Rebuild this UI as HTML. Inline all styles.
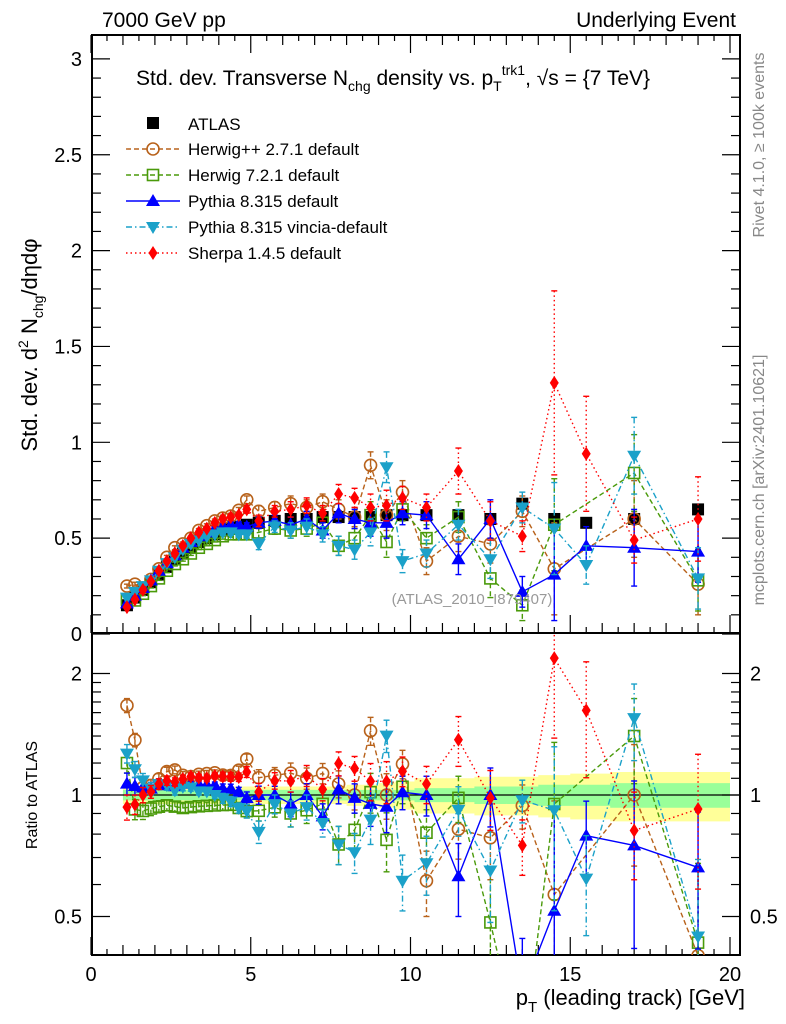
<!DOCTYPE html>
<html><head><meta charset="utf-8"><style>
html,body{margin:0;padding:0;background:#fff;width:786px;height:1024px;overflow:hidden;position:relative;}
svg{display:block;font-family:"Liberation Sans",sans-serif;}
</style></head><body>
<svg id="c" width="786" height="1024" viewBox="0 0 786 1024" style="position:absolute;left:0;top:0"></svg>
<script>
const xs=[1.125,1.375,1.625,1.875,2.125,2.375,2.625,2.875,3.125,3.375,3.625,3.875,4.125,4.375,4.625,4.875,5.25,5.75,6.25,6.75,7.25,7.75,8.25,8.75,9.25,9.75,10.5,11.5,12.5,13.5,14.5,15.5,17,19];
const atlas=[0.15,0.19,0.23,0.27,0.31,0.35,0.39,0.42,0.45,0.48,0.50,0.52,0.54,0.55,0.56,0.57,0.58,0.59,0.60,0.60,0.61,0.61,0.61,0.61,0.62,0.62,0.62,0.62,0.60,0.68,0.60,0.58,0.60,0.65];
const herwigpp=[0.25,0.26,0.24,0.285,0.34,0.40,0.45,0.47,0.50,0.54,0.565,0.59,0.605,0.615,0.645,0.70,0.64,0.66,0.68,0.66,0.69,0.65,0.61,0.88,0.62,0.74,0.38,0.51,0.47,0.64,0.34,null,0.60,0.26];
const herwig7=[0.18,0.175,0.21,0.25,0.29,0.33,0.365,0.39,0.42,0.45,0.47,0.49,0.51,0.52,0.52,0.52,0.53,0.55,0.54,0.55,0.58,0.46,0.50,0.62,0.48,0.65,0.50,0.61,0.29,0.15,0.57,null,0.84,0.28];
const pythia=[0.16,0.20,0.24,0.28,0.33,0.37,0.41,0.45,0.48,0.51,0.53,0.55,0.56,0.57,0.57,0.56,0.58,0.59,0.57,0.60,0.54,0.63,0.60,0.58,0.58,0.63,0.62,0.39,0.60,0.22,0.31,0.46,0.45,0.43];
const vincia=[0.19,0.22,0.25,0.28,0.33,0.37,0.40,0.44,0.47,0.49,0.51,0.52,0.53,0.53,0.52,0.52,0.47,0.56,0.54,0.56,0.52,0.46,0.44,0.53,0.87,0.38,0.42,0.57,0.39,0.66,0.55,0.36,0.93,0.29];
const sherpa=[0.14,0.18,0.23,0.275,0.33,0.38,0.42,0.46,0.50,0.53,0.55,0.58,0.60,0.61,0.62,0.65,0.59,0.64,0.65,0.67,0.63,0.73,0.71,0.66,0.67,0.71,0.66,0.85,0.59,0.51,1.31,0.94,0.49,0.60];
const errs=[0.01,0.01,0.01,0.01,0.01,0.01,0.01,0.01,0.01,0.01,0.01,0.01,0.015,0.015,0.015,0.02,0.03,0.03,0.04,0.04,0.04,0.05,0.05,0.07,0.08,0.06,0.07,0.08,0.1,0.08,0.24,0.1,0.2,0.16];
const sherpaErr=[0.01,0.01,0.01,0.01,0.01,0.01,0.01,0.01,0.01,0.01,0.01,0.01,0.015,0.015,0.015,0.02,0.03,0.03,0.04,0.04,0.04,0.05,0.05,0.07,0.08,0.06,0.07,0.12,0.1,0.08,0.48,0.3,0.12,0.22];
const bandStat=[0.03,0.03,0.03,0.03,0.03,0.03,0.03,0.03,0.03,0.03,0.03,0.03,0.03,0.03,0.03,0.03,0.03,0.03,0.03,0.03,0.03,0.03,0.03,0.03,0.03,0.03,0.04,0.04,0.05,0.05,0.06,0.06,0.07,0.07];
const bandTot=[0.05,0.05,0.05,0.05,0.05,0.05,0.05,0.05,0.05,0.05,0.05,0.05,0.05,0.05,0.05,0.05,0.05,0.05,0.05,0.05,0.05,0.05,0.06,0.06,0.07,0.08,0.1,0.1,0.11,0.11,0.12,0.13,0.14,0.14];
const yTicksMain=[0,0.5,1,1.5,2,2.5,3];
const yTicksRatio=[0.5,1,2];
const xTicks=[0,5,10,15,20];

const NS="http://www.w3.org/2000/svg",svg=document.getElementById('c');
function el(t,a,p){const e=document.createElementNS(NS,t);for(const k in a)e.setAttribute(k,a[k]);(p||svg).appendChild(e);return e;}
const L=92,R=740,T=35,B=633,RB=955;
const X=v=>91+v*31.95;
const Y=v=>634-v*191.7;
const YR=v=>795-Math.log2(v)*121.5;

function band(arr,col,nm){let d='';for(let i=0;i<xs.length;i++){const x0=i==0?1:(xs[i-1]+xs[i])/2,x1=i==xs.length-1?20:(xs[i]+xs[i+1])/2;
 const y1=YR(Math.max(1-arr[i],0.41));d+=`M${X(x0)},${YR(1+arr[i])}H${X(x1)}V${y1}H${X(x0)}Z`;}
 const p=el('path',{d:d,fill:col,stroke:'none'});}
band(bandTot,'#ffff99','ratio-band-total');
band(bandStat,'#99ff99','ratio-band-stat');
el('line',{x1:L,x2:R,y1:YR(1),y2:YR(1),stroke:'#000','stroke-width':1.3,});

el('rect',{x:L,y:T,width:R-L,height:B-T,fill:'none',stroke:'#000','stroke-width':2,});
el('rect',{x:L,y:B,width:R-L,height:RB-B,fill:'none',stroke:'#000','stroke-width':2,});

for(let v=0;v<=20.01;v+=0.5){const maj=Math.abs(v%5)<0.01,mid=Math.abs(v%1)<0.01;const len=maj?18:(mid?10:6);
 [[B,-1],[RB,-1],[T,1]].forEach(([y,s])=>{el('line',{x1:X(v),x2:X(v),y1:y,y2:y+s*len,stroke:'#000','stroke-width':1.2});});}
xTicks.forEach(v=>{const t=el('text',{x:X(v),y:981,'font-size':20,'text-anchor':'middle'});t.textContent=v;});
for(let v=0;v<=3.001;v+=0.1){const maj=Math.abs((v*2)%1)<0.01||Math.abs((v*2)%1-1)<0.01;const len=maj?18:9;
 el('line',{x1:L,x2:L+len,y1:Y(v),y2:Y(v),stroke:'#000','stroke-width':1.2});el('line',{x1:R,x2:R-len,y1:Y(v),y2:Y(v),stroke:'#000','stroke-width':1.2});}
yTicksMain.forEach(v=>{const t=el('text',{x:82,y:Y(v)+7,'font-size':20,'text-anchor':'end'});t.textContent=v;});
[0.5,0.6,0.7,0.8,0.9,1,1.1,1.2,1.3,1.4,1.5,1.6,1.7,1.8,1.9,2].forEach(v=>{const maj=yTicksRatio.includes(v);const len=maj?18:9;
 el('line',{x1:L,x2:L+len,y1:YR(v),y2:YR(v),stroke:'#000','stroke-width':1.2});el('line',{x1:R,x2:R-len,y1:YR(v),y2:YR(v),stroke:'#000','stroke-width':1.2});});
yTicksRatio.forEach(v=>{let t=el('text',{x:82,y:YR(v)+7,'font-size':20,'text-anchor':'end'});t.textContent=v;
 t=el('text',{x:750,y:YR(v)+7,'font-size':20});t.textContent=v;});

function marker(g,type,x,y,col){
 if(type=='sq')el('rect',{x:x-6,y:y-6,width:12,height:12,fill:'#000'},g);
 else if(type=='circ')el('circle',{cx:x,cy:y,r:6,fill:'none',stroke:col,'stroke-width':1.6},g);
 else if(type=='osq')el('rect',{x:x-5.5,y:y-5.5,width:11,height:11,fill:'none',stroke:col,'stroke-width':1.6},g);
 else if(type=='tri')el('path',{d:`M${x},${y-7}L${x+7},${y+5}L${x-7},${y+5}Z`,fill:col},g);
 else if(type=='dtri')el('path',{d:`M${x},${y+7}L${x+7},${y-5}L${x-7},${y-5}Z`,fill:col},g);
 else if(type=='dia')el('path',{d:`M${x},${y-7}L${x+4.5},${y}L${x},${y+7}L${x-4.5},${y}Z`,fill:col},g);
}
const clipM=el('clipPath',{id:'cm'});el('rect',{x:L,y:T,width:R-L,height:B-T},clipM);
const clipR=el('clipPath',{id:'cr'});el('rect',{x:L,y:B,width:R-L,height:RB-B},clipR);

const series=[
 {n:'herwigpp',d:herwigpp,e:errs,c:'#b8621b',dash:'5,3',m:'circ',lab:'Herwig++ 2.7.1 default'},
 {n:'herwig7',d:herwig7,e:errs,c:'#4a9a0a',dash:'5,3',m:'osq',lab:'Herwig 7.2.1 default'},
 {n:'pythia',d:pythia,e:errs,c:'#0000ff',dash:'',m:'tri',lab:'Pythia 8.315 default'},
 {n:'vincia',d:vincia,e:errs,c:'#1ba1c9',dash:'6,3,1.5,3',m:'dtri',lab:'Pythia 8.315 vincia-default'},
 {n:'sherpa',d:sherpa,e:sherpaErr,c:'#ff0000',dash:'1.5,3',m:'dia',lab:'Sherpa 1.4.5 default'}];

function drawSeries(s,ratio){
 const g=el('g',{'clip-path':ratio?'url(#cr)':'url(#cm)'});
 
 const fy=ratio?(i=>YR(Math.max(s.d[i]/atlas[i],0.05))):(i=>Y(s.d[i]));
 const fe=ratio?((i,k)=>YR(Math.max((s.d[i]+k*s.e[i])/atlas[i],0.05))):((i,k)=>Y(s.d[i]+k*s.e[i]));
 let d='';xs.forEach((x,i)=>{if(s.d[i]==null)return;d+=(d?'L':'M')+X(x)+','+fy(i);});
 el('path',{d:d,fill:'none',stroke:s.c,'stroke-width':1.4,'stroke-dasharray':s.dash},g);
 xs.forEach((x,i)=>{if(s.d[i]==null)return;
  el('line',{x1:X(x),x2:X(x),y1:fe(i,1),y2:fe(i,-1),stroke:s.c,'stroke-width':1.4,'stroke-dasharray':s.dash},g);
  el('line',{x1:X(x)-3,x2:X(x)+3,y1:fe(i,1),y2:fe(i,1),stroke:s.c,'stroke-width':1.4},g);
  el('line',{x1:X(x)-3,x2:X(x)+3,y1:fe(i,-1),y2:fe(i,-1),stroke:s.c,'stroke-width':1.4},g);
  marker(g,s.m,X(x),fy(i),s.c);});
}
const ga=el('g',{'clip-path':'url(#cm)'});
xs.forEach((x,i)=>{el('line',{x1:X(x),x2:X(x),y1:Y(atlas[i]+0.01),y2:Y(atlas[i]-0.01),stroke:'#000'},ga);marker(ga,'sq',X(x),Y(atlas[i]),'#000');});
series.forEach(s=>{drawSeries(s,false);drawSeries(s,true);});

const lg=el('g',{});
marker(lg,'sq',153,123,'#000');let t=el('text',{x:188,y:130,'font-size':17},lg);t.textContent='ATLAS';
series.forEach((s,i)=>{const y=149+i*26;
 el('line',{x1:126,x2:180,y1:y,y2:y,stroke:s.c,'stroke-width':1.4,'stroke-dasharray':s.dash},lg);
 marker(lg,s.m,153,y,s.c);const tt=el('text',{x:188,y:y+6,'font-size':17},lg);tt.textContent=s.lab;
 });
</script>
<svg width="786" height="1024" style="position:absolute;left:0;top:0" font-family="Liberation Sans, sans-serif">
<text x="102" y="27" font-size="21">7000 GeV pp</text>
<text x="736" y="27" font-size="21" text-anchor="end">Underlying Event</text>
<text x="136" y="85" font-size="21">Std. dev. Transverse N<tspan font-size="14" dy="6">chg</tspan><tspan dy="-6"> density vs. p</tspan><tspan font-size="14" dy="6">T</tspan><tspan font-size="14" dy="-16">trk1</tspan><tspan dy="10">, √s = {7 TeV}</tspan></text>
<text transform="translate(37,345) rotate(-90)" font-size="22" text-anchor="middle">Std. dev. d<tspan font-size="14" dy="-9">2</tspan><tspan dy="9"> N</tspan><tspan font-size="14" dy="6">chg</tspan><tspan dy="-6">/dηdφ</tspan></text>
<text transform="translate(37,795) rotate(-90)" font-size="16" text-anchor="middle">Ratio to ATLAS</text>
<text x="745" y="1005" font-size="22" text-anchor="end">p<tspan font-size="15" dy="7">T</tspan><tspan dy="-7"> (leading track) [GeV]</tspan></text>
<text x="472" y="604" font-size="15" fill="#999" text-anchor="middle">(ATLAS_2010_I879407)</text>
<text transform="translate(764,145) rotate(-90)" font-size="16" fill="#888" text-anchor="middle">Rivet 4.1.0, ≥ 100k events</text>
<text transform="translate(764,480) rotate(-90)" font-size="16" fill="#888" text-anchor="middle">mcplots.cern.ch [arXiv:2401.10621]</text>
</svg>
</body></html>
